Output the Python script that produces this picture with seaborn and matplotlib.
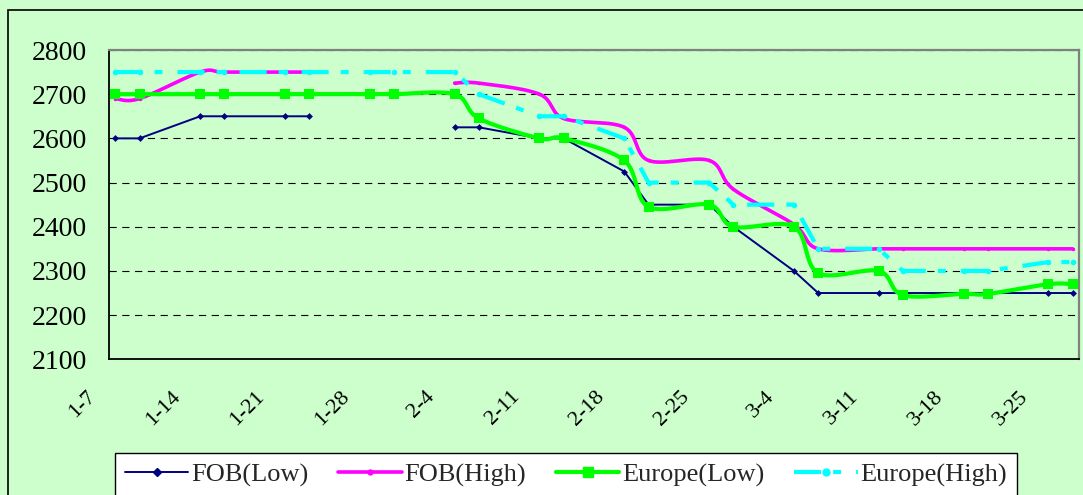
"""Weekly FOB / Europe price ranges, Excel-style smoothed line chart."""

import matplotlib
matplotlib.use("Agg")

import matplotlib.pyplot as plt
import matplotlib.transforms as mtransforms
from matplotlib.lines import Line2D
from matplotlib.patches import Rectangle
import numpy as np
import pandas as pd
import seaborn as sns

nan = np.nan

dates = ["1-7", "1-9", "1-14", "1-16", "1-21", "1-23", "1-28", "1-30",
         "2-4", "2-6", "2-11", "2-13", "2-18", "2-20", "2-25", "2-27",
         "3-4", "3-6", "3-11", "3-13", "3-18", "3-20", "3-25", "3-27"]

fob_low = [2600, 2600, 2650, 2650, 2650, 2650, nan, nan,
           2625, 2625, 2600, 2600, 2525, 2450, 2450, 2400,
           2300, 2250, 2250, 2250, 2250, 2250, 2250, 2250]
fob_high = [2690, 2690, 2750, 2750, 2750, 2750, nan, nan,
            2725, 2725, 2700, 2645, 2625, 2550, 2550, 2485,
            2405, 2350, 2350, 2350, 2350, 2350, 2350, 2350]
europe_low = [2700, 2700, 2700, 2700, 2700, 2700, 2700, 2700,
              2700, 2645, 2600, 2600, 2550, 2445, 2450, 2400,
              2400, 2295, 2300, 2245, 2248, 2248, 2270, 2270]
europe_high = [2750, 2750, 2750, 2750, 2750, 2750, 2750, 2750,
               2750, 2700, 2650, 2650, 2600, 2500, 2500, 2450,
               2450, 2350, 2350, 2300, 2300, 2300, 2320, 2320]

tick_labels = ["1-7", "1-14", "1-21", "1-28", "2-4", "2-11",
               "2-18", "2-25", "3-4", "3-11", "3-18", "3-25"]
series_names = ["FOB(Low)", "FOB(High)", "Europe(Low)", "Europe(High)"]

BG = "#CCFFCC"
W, H = 1083, 495


def day_index(labels):
    d = pd.to_datetime(["2013-" + s for s in labels], format="%Y-%m-%d")
    return np.asarray((d - pd.Timestamp("2013-01-07")).days, dtype=float)


def runs(x, y):
    """Split a series into contiguous non-missing pieces."""
    ok = ~np.isnan(y)
    out, cur = [], []
    for i in range(len(y)):
        if ok[i]:
            cur.append(i)
        elif cur:
            out.append(cur)
            cur = []
    if cur:
        out.append(cur)
    return [(x[idx], y[idx]) for idx in out]


def smooth(x, y, n=24):
    """Excel-like smoothing: cubic Bezier with 1/6 neighbour tangents."""
    pts = np.column_stack([x, y])
    if len(pts) < 3:
        return pts
    out = [pts[0]]
    t = np.linspace(0, 1, n)[1:, None]
    for i in range(len(pts) - 1):
        p0 = pts[max(i - 1, 0)]
        p1 = pts[i]
        p2 = pts[i + 1]
        p3 = pts[min(i + 2, len(pts) - 1)]
        c1 = p1 + (p2 - p0) / 6
        c2 = p2 - (p3 - p1) / 6
        seg = ((1 - t) ** 3) * p1 + 3 * ((1 - t) ** 2) * t * c1 \
            + 3 * (1 - t) * t ** 2 * c2 + t ** 3 * p2
        out.extend(seg)
    return np.array(out)


sns.set_style("white")
plt.rcParams["font.family"] = ["Liberation Serif", "DejaVu Serif"]

x = day_index(dates) + 0.5
ticks = day_index(tick_labels)

fig = plt.figure(figsize=(W / 100, H / 100), dpi=100, facecolor=BG)
ax = fig.add_axes([109.3 / W, 1 - 359.3 / H, (1078.7 - 109.3) / W, (359.3 - 50) / H])
ax.set_facecolor(BG)

styles = [
    dict(color="#000080", lw=1.4, smooth=False, marker="D", ms=3.5, dash=None),
    dict(color="#FF00FF", lw=2.6, smooth=True, marker="o", ms=2.5, dash=None),
    dict(color="#00FF00", lw=3.0, smooth=True, marker="s", ms=7.5, dash=None),
    dict(color="#00FFFF", lw=3.0, smooth=False, marker="o", ms=4.0,
         dash=(0, (6.5, 2.9, 1.9, 3.6))),
]
all_series = [fob_low, fob_high, europe_low, europe_high]

for k, (vals, st) in enumerate(zip(all_series, styles)):
    y = np.asarray(vals, dtype=float)
    frames = []
    for j, (xs, ys) in enumerate(runs(x, y)):
        curve = smooth(xs, ys) if st["smooth"] else np.column_stack([xs, ys])
        frames.append(pd.DataFrame({"x": curve[:, 0], "y": curve[:, 1], "seg": j}))
    df = pd.concat(frames, ignore_index=True)
    n_before = len(ax.lines)
    sns.lineplot(data=df, x="x", y="y", units="seg", estimator=None, sort=False,
                 color=st["color"], linewidth=st["lw"], legend=False, ax=ax,
                 zorder=3 + 2 * k)
    for ln in ax.lines[n_before:]:
        ln.set_solid_capstyle("round")
        if st["dash"] is not None:
            ln.set_linestyle(st["dash"])
    ok = ~np.isnan(y)
    sns.scatterplot(x=x[ok], y=y[ok], marker=st["marker"], s=st["ms"] ** 2,
                    color=st["color"], linewidth=0, legend=False, ax=ax,
                    zorder=4 + 2 * k)

ax.set_xlim(0, 80)
ax.set_ylim(2100, 2800)
ax.set_yticks(np.arange(2100, 2801, 100))
ax.set_xticks(ticks)
ax.set_xticklabels(tick_labels, rotation=45, ha="right", va="top", fontsize=16)
ax.set_xlabel("")
ax.set_ylabel("")
ax.tick_params(axis="y", direction="out", length=3, width=1, pad=13,
               labelsize=20, colors="black")
ax.tick_params(axis="x", direction="in", length=4, width=1, pad=20,
               colors="black")
shift = mtransforms.ScaledTranslation(-10 / 100, 0, fig.dpi_scale_trans)
for lab in ax.get_xticklabels():
    lab.set_transform(lab.get_transform() + shift)

ax.grid(axis="y", color="black", linestyle=(0, (6.5, 5)), linewidth=0.8)
ax.grid(axis="x", visible=False)
ax.set_axisbelow(True)
for side in ["left", "bottom"]:
    ax.spines[side].set_color("black")
    ax.spines[side].set_linewidth(1.3)
for side in ["top", "right"]:
    ax.spines[side].set_color("#808080")
    ax.spines[side].set_linewidth(1.6)

handles = [
    Line2D([], [], color=st["color"], lw=st["lw"], marker=st["marker"],
           ms=st["ms"] + (1 if st["marker"] != "s" else 0),
           ls=st["dash"] if st["dash"] is not None else "-")
    for st in styles
]
leg = fig.legend(handles, series_names, loc="upper left",
                 bbox_to_anchor=(115 / W, 1 - 453 / H),
                 bbox_transform=fig.transFigure, ncol=4, fontsize=19,
                 frameon=True, fancybox=False, edgecolor="black",
                 facecolor="white", framealpha=1, numpoints=1,
                 handlelength=2.4, handletextpad=0.1, columnspacing=1.14,
                 borderpad=0.38, borderaxespad=0)
leg.get_frame().set_linewidth(1.0)

fig.add_artist(Rectangle((8 / W, -0.1), 1.2, 1.1 - 10 / H, transform=fig.transFigure,
                         fill=False, edgecolor="black", linewidth=1.2))

fig.savefig("out.png", dpi=100, facecolor=BG)
plt.close(fig)
